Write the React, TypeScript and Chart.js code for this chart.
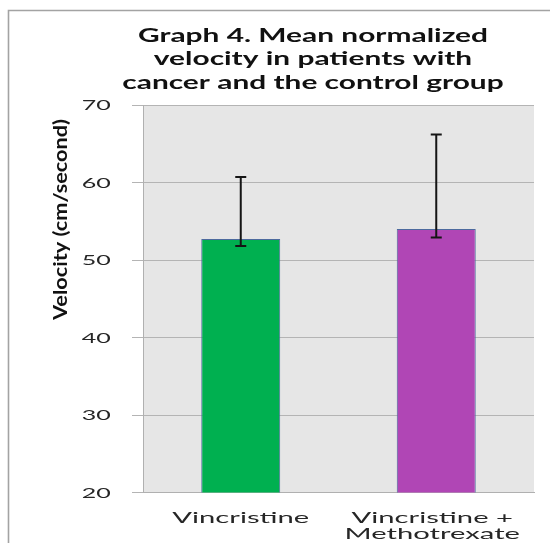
import { useEffect, useRef } from 'react';
import { Chart, registerables } from 'chart.js';

Chart.register(...registerables);

const categories: string[][] = [['Vincristine'], ['Vincristine +', 'Methotrexate']];
const meanVelocity = [52.7, 54.0];
const errorLow = [51.8, 52.9];
const errorHigh = [60.7, 66.2];
const yMin = 20;
const yMax = 70;
const yStep = 10;
const titleLines = ['Graph 4. Mean normalized', 'velocity in patients with', 'cancer and the control group'];
const yTitle = 'Velocity (cm/second)';
const barColors = ['#00b050', '#b046b5'];

function stretchedText(ctx: CanvasRenderingContext2D, text: string, x: number, y: number, sx: number, align: 'left' | 'center' | 'right') {
  const w = ctx.measureText(text).width * sx;
  const left = align === 'center' ? x - w / 2 : align === 'right' ? x - w : x;
  ctx.save();
  ctx.translate(left, y);
  ctx.scale(sx, 1);
  ctx.textAlign = 'left';
  ctx.fillText(text, 0, 0);
  ctx.restore();
}

const decorPlugin = {
  id: 'decor',
  beforeDraw(chart: any) {
    const { ctx, chartArea } = chart;
    ctx.save();
    ctx.fillStyle = '#ffffff';
    ctx.fillRect(0, 0, chart.width, chart.height);
    // frame
    ctx.strokeStyle = '#a3a3a3';
    ctx.lineWidth = 1.6;
    ctx.beginPath();
    ctx.moveTo(8.5, chart.height + 2);
    ctx.lineTo(8.5, 10.5);
    ctx.lineTo(chart.width + 2, 10.5);
    ctx.stroke();
    // plot background
    ctx.fillStyle = '#e6e6e6';
    ctx.fillRect(chartArea.left, chartArea.top, chartArea.right - chartArea.left, chartArea.bottom - chartArea.top);
    ctx.restore();
  },
  afterDatasetsDraw(chart: any) {
    const { ctx } = chart;
    const yScale = chart.scales.y;
    const meta = chart.getDatasetMeta(0);
    ctx.save();
    ctx.strokeStyle = '#151515';
    ctx.lineWidth = 2;
    meta.data.forEach((bar: any, i: number) => {
      const x = bar.x;
      const yHi = yScale.getPixelForValue(errorHigh[i]);
      const yLo = yScale.getPixelForValue(errorLow[i]);
      ctx.beginPath();
      ctx.moveTo(x, yHi);
      ctx.lineTo(x, yLo);
      ctx.moveTo(x - 5.5, yHi);
      ctx.lineTo(x + 5.5, yHi);
      ctx.moveTo(x - 5.5, yLo);
      ctx.lineTo(x + 5.5, yLo);
      ctx.stroke();
    });
    ctx.restore();
  },
  afterDraw(chart: any) {
    const { ctx } = chart;
    const xScale = chart.scales.x;
    const yScale = chart.scales.y;
    ctx.save();
    ctx.textBaseline = 'alphabetic';

    // title
    ctx.fillStyle = '#111111';
    ctx.font = 'bold 18.5px Lato';
    const tsx = 350 / ctx.measureText(titleLines[0]).width;
    const titleBaselines = [41.7, 65.2, 89];
    titleLines.forEach((line, i) => stretchedText(ctx, line, 313, titleBaselines[i], tsx, 'center'));

    // y tick labels
    ctx.fillStyle = '#262626';
    ctx.font = '14px Lato';
    const ysx = 29 / ctx.measureText('70').width;
    yScale.ticks.forEach((t: any) => {
      const py = yScale.getPixelForValue(t.value);
      stretchedText(ctx, String(t.value), 110.7, py + 5, ysx, 'right');
    });

    // x tick labels
    ctx.font = '15.3px Lato';
    const xsx = 137 / ctx.measureText(categories[0][0]).width;
    categories.forEach((lines, i) => {
      const px = xScale.getPixelForValue(i) - (lines.length > 1 ? 4 : 0);
      lines.forEach((line, j) => stretchedText(ctx, line, px, 522.7 + j * 15.8, xsx, 'center'));
    });

    // y title
    ctx.fillStyle = '#111111';
    ctx.font = 'bold 19px Lato';
    const lsx = 201 / ctx.measureText(yTitle).width;
    ctx.translate(61, 219.5);
    ctx.rotate(-Math.PI / 2);
    ctx.textBaseline = 'middle';
    stretchedText(ctx, yTitle, 0, 0, lsx, 'center');
    ctx.restore();
  },
};

export default function App() {
  const canvasRef = useRef<HTMLCanvasElement | null>(null);

  useEffect(() => {
    const canvas = canvasRef.current;
    if (!canvas) return;
    const chart = new Chart(canvas, {
      type: 'bar',
      data: {
        labels: categories.map((c) => c.join(' ')),
        datasets: [
          {
            data: meanVelocity,
            backgroundColor: barColors,
            borderColor: '#4d6a9e',
            borderWidth: 1,
            barPercentage: 0.404,
            categoryPercentage: 1,
          },
        ],
      },
      options: {
        responsive: false,
        animation: false,
        devicePixelRatio: 1,
        layout: { padding: { left: 132, top: 105, right: 16, bottom: 50.5 } },
        plugins: { legend: { display: false }, tooltip: { enabled: false }, title: { display: false } },
        scales: {
          x: {
            ticks: { display: false },
            grid: { display: false, drawTicks: false },
            border: { display: true, color: '#b0b0b0', width: 1 },
            afterFit: (s: any) => {
              s.height = 0;
            },
          },
          y: {
            min: yMin,
            max: yMax,
            ticks: { display: false, stepSize: yStep },
            grid: { color: '#b4b4b4', lineWidth: 1, drawTicks: true, tickLength: 11 },
            border: { display: true, color: '#b0b0b0', width: 1 },
            afterFit: (s: any) => {
              s.width = 11;
            },
          },
        },
      },
      plugins: [decorPlugin],
    });
    return () => chart.destroy();
  }, []);

  return (
    <div style={{ position: 'fixed', left: 0, top: 0, width: 550, height: 543, background: '#fff' }}>
      <canvas ref={canvasRef} width={550} height={543} style={{ display: 'block' }} />
    </div>
  );
}
